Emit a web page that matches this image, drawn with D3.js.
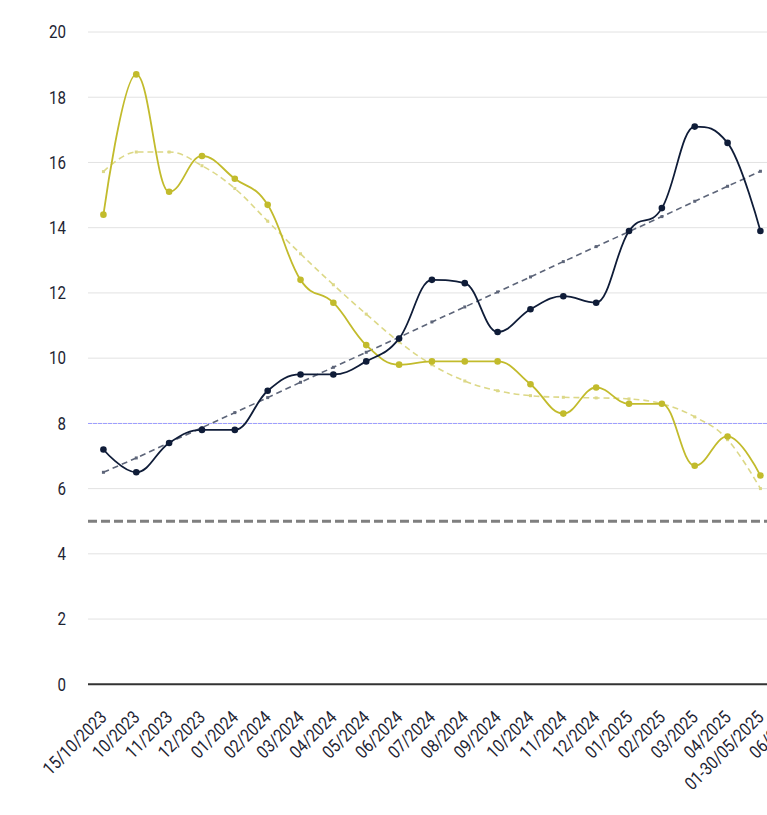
<!DOCTYPE html>
<html><head><meta charset="utf-8">
<script src="https://cdn.jsdelivr.net/npm/d3@7"></script>
<style>
html,body{margin:0;padding:0;background:#fff;}
svg{display:block;}
text{font-family:Roboto,"Liberation Sans",sans-serif;fill:#1e2433;}
</style></head>
<body>
<svg id="chart" width="767" height="815"></svg>
<script>
const categories = ['15/10/2023','10/2023','11/2023','12/2023','01/2024','02/2024','03/2024','04/2024','05/2024','06/2024','07/2024','08/2024','09/2024','10/2024','11/2024','12/2024','01/2025','02/2025','03/2025','04/2025','01-30/05/2025','06/2025'];
const navyValues = [7.2,6.5,7.4,7.8,7.8,9.0,9.5,9.5,9.9,10.6,12.4,12.3,10.8,11.5,11.9,11.7,13.9,14.6,17.1,16.6,13.9];
const yellowValues = [14.4,18.7,15.1,16.2,15.5,14.7,12.4,11.7,10.4,9.8,9.9,9.9,9.9,9.2,8.3,9.1,8.6,8.6,6.7,7.6,6.4];
const navyTrend = [6.5,6.94,7.41,7.87,8.33,8.79,9.26,9.72,10.18,10.64,11.11,11.57,12.03,12.49,12.96,13.42,13.88,14.34,14.81,15.27,15.73];
const yellowTrend = [15.72,16.32,16.32,15.9,15.2,14.2,13.2,12.25,11.35,10.5,9.8,9.3,9.0,8.85,8.8,8.78,8.75,8.6,8.2,7.5,6.0];
const yTicks = [0,2,4,6,8,10,12,14,16,18,20];
const refPurple = 8;
const refGray = 5;

const svg = d3.select('#chart');
const x = d3.scaleBand().domain(categories).range([87, 87 + 22 * 32.85]);
const y = d3.scaleLinear().domain([0, 20]).range([684.3, 32]);
const cx = i => x(categories[i]) + x.bandwidth() / 2;

// Highcharts-like spline curve
function curveHC(context) {
  let pts = [];
  return {
    areaStart() {}, areaEnd() {},
    lineStart() { pts = []; },
    point(px, py) { pts.push([+px, +py]); },
    lineEnd() {
      const s = 1.5, d = 2.5, n = pts.length;
      const lc = pts.map(p => p.slice()), rc = pts.map(p => p.slice());
      for (let i = 1; i < n - 1; i++) {
        const [lx, ly] = pts[i - 1], [px, py] = pts[i], [nx, ny] = pts[i + 1];
        let lcx = (s * px + lx) / d, lcy = (s * py + ly) / d;
        let rcx = (s * px + nx) / d, rcy = (s * py + ny) / d;
        let corr = 0;
        if (rcx !== lcx) corr = ((rcy - lcy) * (rcx - px)) / (rcx - lcx) + py - rcy;
        lcy += corr; rcy += corr;
        if (lcy > ly && lcy > py) { lcy = Math.max(ly, py); rcy = 2 * py - lcy; }
        else if (lcy < ly && lcy < py) { lcy = Math.min(ly, py); rcy = 2 * py - lcy; }
        if (rcy > ny && rcy > py) { rcy = Math.max(ny, py); lcy = 2 * py - rcy; }
        else if (rcy < ny && rcy < py) { rcy = Math.min(ny, py); lcy = 2 * py - rcy; }
        lc[i] = [lcx, lcy]; rc[i] = [rcx, rcy];
      }
      if (!n) return;
      context.moveTo(pts[0][0], pts[0][1]);
      for (let i = 1; i < n; i++) {
        context.bezierCurveTo(rc[i - 1][0], rc[i - 1][1], lc[i][0], lc[i][1], pts[i][0], pts[i][1]);
      }
    }
  };
}

// gridlines
svg.append('g').selectAll('line').data(yTicks.filter(t => t > 0)).join('line')
  .attr('x1', 88).attr('x2', 767).attr('y1', d => y(d)).attr('y2', d => y(d))
  .attr('stroke', '#e2e2e2').attr('stroke-width', 1);

// y labels
svg.append('g').selectAll('text').data(yTicks).join('text')
  .attr('transform', d => `translate(66,${y(d)}) scale(0.84,1)`)
  .attr('dy', '0.35em')
  .attr('text-anchor', 'end').attr('font-size', 18).text(d => d);

// reference lines
svg.append('line').attr('x1', 88).attr('x2', 767).attr('y1', Math.round(y(refPurple)) + 0.5).attr('y2', Math.round(y(refPurple)) + 0.5)
  .attr('stroke', '#9d9dff').attr('stroke-width', 1).attr('stroke-dasharray', '4,1');
svg.append('line').attr('x1', 88).attr('x2', 767).attr('y1', y(refGray)).attr('y2', y(refGray))
  .attr('stroke', '#7f7f7f').attr('stroke-width', 3).attr('stroke-dasharray', '9,4');

// x axis line
svg.append('line').attr('x1', 88).attr('x2', 767).attr('y1', y(0)).attr('y2', y(0))
  .attr('stroke', '#333').attr('stroke-width', 2);

// x labels
svg.append('g').selectAll('text').data(categories).join('text')
  .attr('transform', (d, i) => `translate(${cx(i)},${714}) rotate(-45) scale(0.85,1)`)
  .attr('dy', '0.35em').attr('text-anchor', 'end').attr('font-size', 18).text(d => d);

const lineHC = d3.line().x((d, i) => cx(i)).y(d => y(d)).curve(curveHC);
const lineLin = d3.line().x((d, i) => cx(i)).y(d => y(d));

// trends
svg.append('path').attr('d', lineHC(yellowTrend)).attr('fill', 'none')
  .attr('stroke', '#dcd887').attr('stroke-width', 1.6).attr('stroke-dasharray', '6,4');
svg.append('g').selectAll('rect').data(yellowTrend).join('rect')
  .attr('x', (d, i) => cx(i) - 1.5).attr('y', d => y(d) - 1.5).attr('width', 3).attr('height', 3)
  .attr('fill', '#dcd887');
svg.append('path').attr('d', lineLin(navyTrend)).attr('fill', 'none')
  .attr('stroke', '#5d6579').attr('stroke-width', 1.6).attr('stroke-dasharray', '6,4');
svg.append('g').selectAll('rect').data(navyTrend).join('rect')
  .attr('x', (d, i) => cx(i) - 1.5).attr('y', d => y(d) - 1.5).attr('width', 3).attr('height', 3)
  .attr('fill', '#5d6579');

// main series
function series(vals, color) {
  svg.append('path').attr('d', lineHC(vals)).attr('fill', 'none')
    .attr('stroke', color).attr('stroke-width', 1.8);
  svg.append('g').selectAll('circle').data(vals).join('circle')
    .attr('cx', (d, i) => cx(i)).attr('cy', d => y(d)).attr('r', 3.3).attr('fill', color);
}
series(yellowValues, '#c2bb2c');
series(navyValues, '#0f1c38');
</script>
</body></html>
